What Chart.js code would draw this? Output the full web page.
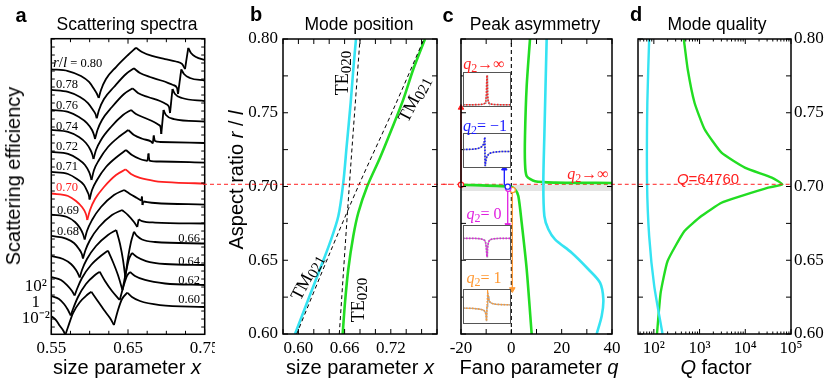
<!DOCTYPE html>
<html>
<head>
<meta charset="utf-8">
<script src="https://cdn.jsdelivr.net/npm/chart.js@4.4.1/dist/chart.umd.min.js"></script>
<style>
body { margin: 0; background: #fff; }
#fig { position: relative; width: 826px; height: 382px; overflow: hidden; font-family: "Liberation Sans", Arial, sans-serif; }
canvas { position: absolute; top: 0; }
canvas.inset { background: #fff; }
.t { position: absolute; transform: translate(-50%, -50%); white-space: nowrap; line-height: 1; }
.let { font-weight: bold; font-size: 20px; }
.ttl { font-size: 17.5px; }
.ax { font-size: 20px; }
.rot { transform: translate(-50%, -50%) rotate(-90deg); }
.sl { position: absolute; transform: translate(0, -50%); white-space: nowrap; line-height: 1; font: 12.5px "Liberation Serif", serif; }
.sr { position: absolute; transform: translate(-100%, -50%); white-space: nowrap; line-height: 1; font: 12.5px "Liberation Serif", serif; }
.q { font: 16px "Liberation Serif", serif; }
.q sub { font-size: 12px; vertical-align: -3px; line-height: 0; }
.m { font: 18px "Liberation Serif", serif; }
.m sub { font-size: 15px; vertical-align: -3px; line-height: 0; }
</style>
</head>
<body>
<div id="fig">
  <canvas id="ca" width="215" height="382" style="left:0px"></canvas>
  <canvas id="cb" width="250" height="382" style="left:200px"></canvas>
  <canvas id="cc" width="185" height="382" style="left:440px"></canvas>
  <canvas id="cd" width="201" height="382" style="left:625px"></canvas>
  <canvas id="i1" class="inset" width="48" height="35" style="left:463px;top:72px"></canvas>
  <canvas id="i2" class="inset" width="48" height="35" style="left:463px;top:133px"></canvas>
  <canvas id="i3" class="inset" width="48" height="35" style="left:463px;top:225px"></canvas>
  <canvas id="i4" class="inset" width="48" height="35" style="left:463px;top:289px"></canvas>

  <div class="t let" style="left:21px;top:15px">a</div>
  <div class="t let" style="left:256px;top:14px">b</div>
  <div class="t let" style="left:448px;top:15px">c</div>
  <div class="t let" style="left:636px;top:14px">d</div>

  <div class="t ttl" style="left:127px;top:25px">Scattering spectra</div>
  <div class="t ttl" style="left:359px;top:25px">Mode position</div>
  <div class="t ttl" style="left:535px;top:25px">Peak asymmetry</div>
  <div class="t ttl" style="left:717px;top:25px">Mode quality</div>

  <div class="t ax" style="left:127px;top:367px">size parameter <i>x</i></div>
  <div class="t ax" style="left:360px;top:367px">size parameter <i>x</i></div>
  <div class="t ax" style="left:539px;top:367px">Fano parameter <i>q</i></div>
  <div class="t ax" style="left:716px;top:367px"><i>Q</i> factor</div>
  <div class="t ax rot" style="left:13px;top:176px">Scattering efficiency</div>
  <div class="t ax rot" style="left:236px;top:180px">Aspect ratio <i>r</i> / <i>l</i></div>

  <div class="sl" style="left:53px;top:62px"><span style="font-size:15px"><i>r</i>/<i>l</i></span> = 0.80</div>
  <div class="sl" style="left:56px;top:84px">0.78</div>
  <div class="sl" style="left:56px;top:105px">0.76</div>
  <div class="sl" style="left:56px;top:126px">0.74</div>
  <div class="sl" style="left:56px;top:146px">0.72</div>
  <div class="sl" style="left:56px;top:166px">0.71</div>
  <div class="sl" style="left:56px;top:187px;color:#ff2020">0.70</div>
  <div class="sl" style="left:57px;top:210px">0.69</div>
  <div class="sl" style="left:57px;top:231px">0.68</div>
  <div class="sr" style="left:200px;top:238px">0.66</div>
  <div class="sr" style="left:200px;top:261px">0.64</div>
  <div class="sr" style="left:200px;top:280px">0.62</div>
  <div class="sr" style="left:200px;top:299px">0.60</div>

  <div class="t m" style="left:342px;top:73px;transform:translate(-50%,-50%) rotate(-90deg)">TE<sub>020</sub></div>
  <div class="t m" style="left:414px;top:99px;transform:translate(-50%,-50%) rotate(-63deg)">TM<sub>021</sub></div>
  <div class="t m" style="left:307px;top:277px;transform:translate(-50%,-50%) rotate(-62deg)">TM<sub>021</sub></div>
  <div class="t m" style="left:358px;top:300px;transform:translate(-50%,-50%) rotate(-90deg)">TE<sub>020</sub></div>

  <div class="t q" style="left:484px;top:64px;color:#ff2020"><i>q</i><sub>2</sub>→∞</div>
  <div class="t q" style="left:485px;top:126px;color:#1a1aff"><i>q</i><sub>2</sub>= −1</div>
  <div class="t q" style="left:484px;top:214px;color:#e020e0"><i>q</i><sub>2</sub>= 0</div>
  <div class="t q" style="left:484px;top:278px;color:#ff9933"><i>q</i><sub>2</sub>= 1</div>
  <div class="t q" style="left:588px;top:174px;color:#ff2020"><i>q</i><sub>2</sub>→∞</div>
  <div class="t" style="left:708px;top:178px;color:#ff2020;font-size:15px"><i>Q</i>=64760</div>
</div>

<script>
// panel a: spectra, y in decades (log10), each r/l offset upward
const specLabels = ['0.80', '0.78', '0.76', '0.74', '0.72', '0.71', '0.70', '0.69', '0.68', '0.66', '0.64', '0.62', '0.60'];
const spec080 = [[0.55,29.21],[0.5718,29.0],[0.5887,28.38],[0.5992,27.63],[0.6057,26.75],[0.6096,26.13],[0.6118,25.63],[0.6148,26.63],[0.6213,28.0],[0.6344,29.5],[0.65,31.0],[0.6604,31.91],[0.6683,31.38],[0.6813,30.88],[0.6983,30.5],[0.7126,30.19],[0.7204,29.88],[0.7243,29.25],[0.7286,31.88],[0.7321,31.25],[0.7387,30.75],[0.75,30.38]];
const spec078 = [[0.55,26.63],[0.5718,26.38],[0.5874,25.75],[0.5978,25.0],[0.6044,24.13],[0.6076,23.63],[0.6092,23.09],[0.6122,24.13],[0.6187,25.5],[0.6317,27.0],[0.6474,28.63],[0.6578,29.34],[0.6656,28.75],[0.6787,28.25],[0.6956,27.75],[0.7087,27.25],[0.7139,26.88],[0.7152,26.13],[0.7195,29.21],[0.723,28.63],[0.7308,28.13],[0.75,27.81]];
const spec076 = [[0.55,24.13],[0.5718,23.88],[0.5861,23.25],[0.5965,22.5],[0.6031,21.63],[0.6057,21.0],[0.607,20.5],[0.6102,21.63],[0.6161,22.88],[0.6291,24.5],[0.6448,26.13],[0.6561,26.84],[0.663,26.25],[0.6761,25.75],[0.6917,25.25],[0.6995,24.88],[0.7035,24.5],[0.7048,23.75],[0.708,26.75],[0.7113,26.13],[0.7204,25.63],[0.75,25.25]];
const spec074 = [[0.55,21.63],[0.5718,21.38],[0.5861,20.75],[0.5952,20.0],[0.6011,19.13],[0.6037,18.5],[0.605,18.0],[0.6083,19.13],[0.6148,20.38],[0.6278,22.0],[0.6435,23.5],[0.6539,24.13],[0.6604,23.63],[0.6722,23.13],[0.6839,22.63],[0.6904,22.25],[0.6924,22.0],[0.6934,21.13],[0.6963,24.13],[0.6995,23.5],[0.71,23.0],[0.75,22.69]];
const spec072 = [[0.55,18.88],[0.5718,18.63],[0.5848,18.0],[0.5939,17.25],[0.5992,16.38],[0.6011,15.88],[0.6024,15.38],[0.6057,16.63],[0.6122,17.88],[0.6239,19.5],[0.6396,20.88],[0.6504,21.63],[0.6578,21.0],[0.6696,20.5],[0.68,20.19],[0.6823,19.94],[0.6835,20.94],[0.6852,20.25],[0.6917,20.13],[0.75,20.0]];
const spec071 = [[0.55,16.38],[0.5718,16.13],[0.5835,15.5],[0.5926,14.75],[0.5972,13.88],[0.5992,13.38],[0.5998,12.94],[0.6031,14.13],[0.6096,15.38],[0.6213,17.0],[0.637,18.38],[0.6474,19.13],[0.6552,18.5],[0.6656,18.0],[0.6754,17.75],[0.6767,18.69],[0.678,17.81],[0.6917,17.69],[0.75,17.56]];
const spec070 = [[0.55,13.69],[0.5718,13.38],[0.5822,12.75],[0.59,12.0],[0.5946,11.25],[0.5962,10.75],[0.5969,10.38],[0.6005,11.63],[0.607,13.0],[0.6187,14.5],[0.6344,16.0],[0.647,16.71],[0.6539,16.13],[0.6656,15.63],[0.6852,15.25],[0.7113,15.06],[0.75,14.94]];
const spec069 = [[0.55,11.06],[0.5705,10.75],[0.5809,10.13],[0.5874,9.38],[0.5913,8.63],[0.5935,7.94],[0.5965,9.0],[0.6031,10.38],[0.6148,12.0],[0.6317,13.5],[0.6448,14.13],[0.6526,13.63],[0.6617,13.13],[0.6673,12.81],[0.6681,13.31],[0.6689,12.25],[0.6699,12.69],[0.6852,12.5],[0.75,12.31]];
const spec068 = [[0.55,8.38],[0.5692,8.06],[0.5796,7.5],[0.5861,6.75],[0.5898,6.13],[0.5913,5.56],[0.5946,6.63],[0.6005,7.88],[0.6122,9.5],[0.6291,11.0],[0.6422,11.63],[0.65,11.0],[0.6578,10.13],[0.6621,9.5],[0.6639,10.46],[0.6683,10.25],[0.6852,10.06],[0.75,9.94]];
const spec066 = [[0.55,5.88],[0.5653,5.5],[0.5757,4.88],[0.5822,4.13],[0.5857,3.5],[0.587,3.19],[0.59,4.13],[0.5965,5.5],[0.6083,7.13],[0.6239,8.5],[0.6347,9.13],[0.6396,7.38],[0.6435,5.38],[0.6465,3.25],[0.65,5.63],[0.6539,7.63],[0.6578,8.91],[0.6617,8.38],[0.6683,7.94],[0.6852,7.63],[0.75,7.44]];
const spec064 = [[0.55,3.25],[0.5626,2.88],[0.5705,2.25],[0.577,1.5],[0.5805,0.94],[0.5835,1.75],[0.59,3.13],[0.6018,4.75],[0.6161,6.0],[0.6239,6.54],[0.6304,5.13],[0.6369,3.5],[0.6428,1.63],[0.6474,3.88],[0.6513,5.5],[0.6552,6.25],[0.6617,5.75],[0.6735,5.25],[0.6983,4.88],[0.75,4.75]];
const spec062 = [[0.55,0.88],[0.56,0.5],[0.5666,-0.13],[0.5718,-0.88],[0.5753,-1.56],[0.5783,-0.75],[0.5848,0.75],[0.5952,2.38],[0.607,3.5],[0.6131,3.91],[0.62,2.75],[0.6291,1.5],[0.6392,0.38],[0.6435,1.88],[0.6487,3.38],[0.6526,3.88],[0.6591,3.38],[0.6722,2.88],[0.6983,2.44],[0.75,2.25]];
const spec060 = [[0.55,-1.63],[0.5561,-2.13],[0.5613,-2.88],[0.5659,-3.5],[0.5683,-4.0],[0.5718,-3.0],[0.5783,-1.25],[0.5874,0.13],[0.5965,1.0],[0.6022,1.41],[0.6096,0.38],[0.6187,-0.88],[0.6265,-1.88],[0.6317,-2.75],[0.637,-0.88],[0.6422,0.5],[0.6491,1.29],[0.6552,0.75],[0.6656,0.25],[0.6917,-0.25],[0.75,-0.5]];
const spectra = [spec080, spec078, spec076, spec074, spec072, spec071, spec070, spec069, spec068, spec066, spec064, spec062, spec060];
const aXTicks = [0.55, 0.575, 0.6, 0.625, 0.65, 0.675, 0.7, 0.725, 0.75];
const aXLabeled = [0.55, 0.65, 0.75];
const aYLabeled = [2, 0, -2];
const aYText = ['10²', '1', '10⁻²'];

// panel b: mode position (size parameter x vs r/l)
const bCyan = [[0.5956,0.60],[0.6129,0.6235],[0.628,0.6439],[0.641,0.6619],[0.6519,0.68],[0.6583,0.7026],[0.6627,0.7275],[0.6679,0.7568],[0.6713,0.7795],[0.6748,0.80]];
const bGreen = [[0.6575,0.60],[0.6605,0.6212],[0.6648,0.6439],[0.6713,0.6664],[0.6778,0.6822],[0.6895,0.7003],[0.706,0.7195],[0.7211,0.7388],[0.7363,0.7591],[0.7492,0.7795],[0.7644,0.80]];
const bTE = [[0.6531,0.60],[0.6661,0.7003],[0.68,0.80]];
const bTM = [[0.5978,0.60],[0.641,0.6551],[0.6791,0.7017],[0.7233,0.7523],[0.7631,0.80]];
const bXTicks = [0.58, 0.60, 0.62, 0.64, 0.66, 0.68, 0.70, 0.72, 0.74, 0.76, 0.78];
const bXLabeled = [0.60, 0.66, 0.72];
const rTicks = [0.60, 0.625, 0.65, 0.675, 0.70, 0.725, 0.75, 0.775, 0.80];
const rLabeled = [0.60, 0.65, 0.70, 0.75, 0.80];
const rBic = 0.7015;

// panel c: Fano parameter q
const cGreenUpper = [[7.42,0.80],[6.10,0.7681],[5.43,0.7342],[5.43,0.7162],[6.10,0.7071],[9.41,0.7035],[17.36,0.7026],[40.1,0.7024]];
const cGreenLower = [[-20,0.7012],[-0.53,0.6999],[1.46,0.6981],[2.78,0.6936],[4.11,0.6755],[6.10,0.6439],[8.08,0.60]];
const cCyan = [[14.04,0.80],[13.12,0.7342],[12.72,0.7026],[13.12,0.68],[14.71,0.671],[17.36,0.6642],[23.98,0.6551],[30.6,0.6439],[35.24,0.6348],[36.56,0.6235],[35.9,0.6122],[33.9,0.60]];
const cBand = [0.6969, 0.7012];
const arrowQ = [-20, -2.79, -1.44, 0.39];
const arrowFrom = [0.7012, 0.7008, 0.6992, 0.6976];
const arrowTo = [0.7535, 0.7123, 0.6737, 0.6303];
const arrowColors = ['#ff2020', '#1a1aff', '#e020e0', '#ff9933'];
const dotQ = [-20, -1.44, -1.2, 0.55];
const dotR = [0.7012, 0.6999, 0.6985, 0.6976];
const cXTicks = [-20, -10, 0, 10, 20, 30, 40];
const cXLabeled = [-20, 0, 20, 40];

// insets (normalised detuning vs normalised intensity)
const insInfX = [-1,-0.6,-0.3,-0.15,-0.08,-0.05,-0.03,-0.015,0,0.015,0.03,0.05,0.08,0.15,0.3,0.6,1];
const insInfY = [0.02,0.02,0.03,0.04,0.07,0.12,0.3,0.7,0.95,0.7,0.3,0.12,0.07,0.04,0.03,0.02,0.02];
const insM1X = [-1,-0.6,-0.4,-0.28,-0.2,-0.15,-0.12,-0.1,-0.09,-0.08,-0.06,-0.03,0,0.1,0.3,0.6,1];
const insM1Y = [0.53,0.54,0.56,0.59,0.63,0.69,0.77,0.88,0.92,0.02,0.11,0.24,0.32,0.41,0.45,0.47,0.47];
const ins0X = [-1,-0.5,-0.3,-0.18,-0.1,-0.06,-0.03,-0.01,0,0.01,0.03,0.06,0.1,0.18,0.3,0.5,1];
const ins0Y = [0.63,0.63,0.62,0.6,0.57,0.5,0.35,0.12,0.05,0.12,0.35,0.5,0.57,0.6,0.62,0.63,0.63];
const insP1X = [-1,-0.6,-0.35,-0.2,-0.12,-0.07,-0.04,-0.02,0,0.03,0.05,0.08,0.12,0.2,0.35,0.6,1];
const insP1Y = [0.45,0.44,0.42,0.4,0.37,0.32,0.24,0.04,0.5,0.92,0.82,0.7,0.64,0.6,0.57,0.56,0.55];

// panel d: quality factor
const dGreen = [[452,0.80],[550,0.7795],[776,0.7568],[1288,0.7388],[3020,0.7229],[9772,0.7128],[38019,0.706],[64760,0.7015],[31623,0.6992],[8318,0.6936],[3020,0.689],[1096,0.68],[468,0.6698],[200,0.6495],[141,0.628],[117,0.60]];
const dCyan = [[79,0.80],[72,0.7568],[71,0.7026],[79,0.6664],[102,0.6325],[155,0.60]];
const dXTicks = [50,60,70,80,90,100,200,300,400,500,600,700,800,900,1000,2000,3000,4000,5000,6000,7000,8000,9000,10000,20000,30000,40000,50000,60000,70000,80000,90000,100000];
const dXLabeled = [100, 1000, 10000, 100000];
const dXText = ['10²', '10³', '10⁴', '10⁵'];

const CYAN = '#35e3f2';
const GREEN = '#22dd22';
const RED = '#ff2020';
const serif = "'Liberation Serif', 'Times New Roman', Times, serif";

Chart.defaults.font.family = serif;
Chart.defaults.font.size = 17;
Chart.defaults.color = '#000';

const frame = {
  id: 'frame',
  afterDatasetsDraw(chart, args, o) {
    const ctx = chart.ctx, a = chart.chartArea;
    ctx.save();
    ctx.strokeStyle = o.color || '#000';
    if (o.ticks) {
      const xs = chart.scales.x, ys = chart.scales.y;
      ctx.lineWidth = 1;
      ctx.beginPath();
      xs.ticks.forEach(t => {
        const p = xs.getPixelForValue(t.value), n = t.label ? o.major : o.minor;
        ctx.moveTo(p, a.bottom); ctx.lineTo(p, a.bottom - n);
        ctx.moveTo(p, a.top); ctx.lineTo(p, a.top + n);
      });
      ys.ticks.forEach(t => {
        const p = ys.getPixelForValue(t.value), n = o.yLen;
        ctx.moveTo(a.left, p); ctx.lineTo(a.left + n, p);
        ctx.moveTo(a.right, p); ctx.lineTo(a.right - n, p);
      });
      ctx.stroke();
    }
    ctx.lineWidth = o.width || 1.5;
    ctx.strokeRect(a.left, a.top, a.right - a.left, a.bottom - a.top);
    ctx.restore();
  }
};

function pts(arr) { return arr.map(p => ({x: p[0], y: p[1]})); }
function xy(xs, ys) { return xs.map((v, i) => ({x: v, y: ys[i]})); }
function curve(data, color, width, extra) {
  return Object.assign({data: data, borderColor: color, backgroundColor: color, borderWidth: width,
    pointRadius: 0, tension: 0, fill: false}, extra || {});
}
function near(list, v) { return list.findIndex(u => Math.abs(u - v) < 1e-6 * Math.max(1, Math.abs(u))); }

// split a spectrum where it turns, so cusps stay sharp while each branch is drawn smooth
function branches(arr) {
  const out = [];
  let cur = [arr[0]];
  for (let i = 1; i < arr.length; i++) {
    cur.push(arr[i]);
    if (i < arr.length - 1 && (arr[i][1] - arr[i - 1][1]) * (arr[i + 1][1] - arr[i][1]) < 0) {
      out.push(cur);
      cur = [arr[i]];
    }
  }
  out.push(cur);
  return out;
}

function scale(c) {
  return {
    type: c.type || 'linear', position: c.position, min: c.min, max: c.max,
    grid: {display: false, drawTicks: false}, border: {display: false},
    ticks: {
      autoSkip: false, maxRotation: 0, minRotation: 0, padding: c.pad, color: '#000',
      crossAlign: c.cross || 'near', font: {family: serif, size: 17},
      callback: v => { const k = near(c.labeled, v); return k < 0 ? '' : (c.text ? c.text[k] : v.toFixed(c.dec)); }
    },
    afterBuildTicks: s => { s.ticks = c.ticks.map(v => ({value: v})); },
    afterFit: s => {
      if (c.w != null) s.width = c.w;
      if (c.h != null) s.height = c.h;
      s.paddingLeft = 0; s.paddingRight = 0; s.paddingTop = 0; s.paddingBottom = 0;
    }
  };
}

function options(pad, xs, ys, fr) {
  return {
    responsive: false, animation: false, devicePixelRatio: 1, events: [],
    layout: {padding: pad},
    plugins: {legend: {display: false}, tooltip: {enabled: false}, frame: fr},
    scales: {x: xs, y: ys}
  };
}

function draw() {
  // panel a
  const aYTicks = [];
  for (let d = -3; d <= 33; d++) aYTicks.push(d);
  const aSets = [];
  spectra.forEach((s, i) => {
    branches(s).forEach(b => aSets.push(curve(pts(b), specLabels[i] === '0.70' ? RED : '#000', 1.8,
      {cubicInterpolationMode: 'monotone'})));
  });
  new Chart(document.getElementById('ca'), {
    type: 'line',
    data: {datasets: aSets},
    options: options({top: 38.7, right: 10.3, left: 0, bottom: 0},
      scale({min: 0.55, max: 0.75, ticks: aXTicks, labeled: aXLabeled, dec: 2, pad: 4, h: 47.7}),
      scale({min: -3.91, max: 33.04, ticks: aYTicks, labeled: aYLabeled, text: aYText, pad: 1.5, w: 51.3, cross: 'center'}),
      {ticks: true, major: 5, minor: 3.5, yLen: 3.5, width: 1.5}),
    plugins: [frame]
  });

  // panel b
  new Chart(document.getElementById('cb'), {
    type: 'line',
    data: {datasets: [
      curve(pts([[0.4761, rBic], [0.83, rBic]]), RED, 1, {borderDash: [4, 3], clip: false}),
      curve(pts(bTE), '#000', 1, {borderDash: [4, 3], tension: 0.3}),
      curve(pts(bTM), '#000', 1, {borderDash: [4, 3], tension: 0.3}),
      curve(pts(bCyan), CYAN, 2.6, {tension: 0.3}),
      curve(pts(bGreen), GREEN, 2.6, {tension: 0.3})
    ]},
    options: options({top: 39, right: 13, left: 0, bottom: 0},
      scale({min: 0.58, max: 0.78, ticks: bXTicks, labeled: bXLabeled, dec: 2, pad: 4, h: 48}),
      scale({min: 0.60, max: 0.80, ticks: rTicks, labeled: rLabeled, dec: 2, pad: 5, w: 83}),
      {ticks: true, major: 5, minor: 5, yLen: 5, width: 1.5}),
    plugins: [frame]
  });

  // panel c
  const cSets = [
    curve(pts([[-20, cBand[1]], [40, cBand[1]]]), 'rgba(0,0,0,0)', 0, {fill: '+1', backgroundColor: '#e4e4e4', order: 20}),
    curve(pts([[-20, cBand[0]], [40, cBand[0]]]), 'rgba(0,0,0,0)', 0, {order: 20}),
    curve(pts([[0, 0.60], [0, 0.80]]), '#000', 1.1, {borderDash: [4, 3], order: 10}),
    curve(pts([[-30, rBic], [55, rBic]]), RED, 1, {borderDash: [4, 3], clip: false, order: 5}),
    curve(pts(cCyan), CYAN, 2.6, {tension: 0.3}),
    curve(pts(cGreenUpper), GREEN, 2.6, {tension: 0.25}),
    curve(pts(cGreenLower), GREEN, 2.6, {tension: 0.25})
  ];
  arrowQ.forEach((q, i) => {
    cSets.push(curve(pts([[q, arrowFrom[i]], [q, arrowTo[i]]]), arrowColors[i], 1.3, {clip: false, order: -1}));
    cSets.push(curve(pts([[q, arrowTo[i]]]), arrowColors[i], 1, {clip: false, order: -1, showLine: false,
      pointRadius: 3.2, pointStyle: 'triangle', pointRotation: arrowTo[i] > arrowFrom[i] ? 0 : 180}));
    cSets.push(curve(pts([[dotQ[i], dotR[i]]]), arrowColors[i], 1.2, {clip: false, order: -2, showLine: false,
      pointRadius: 2.6, pointStyle: 'circle', backgroundColor: '#fff'}));
  });
  new Chart(document.getElementById('cc'), {
    type: 'line',
    data: {datasets: cSets},
    options: options({top: 39, right: 13, left: 0, bottom: 0},
      scale({min: -20, max: 40, ticks: cXTicks, labeled: cXLabeled, dec: 0, pad: 4, h: 48}),
      scale({min: 0.60, max: 0.80, ticks: rTicks, labeled: [], dec: 2, pad: 5, w: 21}),
      {ticks: true, major: 5, minor: 5, yLen: 5, width: 1.5}),
    plugins: [frame]
  });

  // panel d
  new Chart(document.getElementById('cd'), {
    type: 'line',
    data: {datasets: [
      curve(pts([[23, rBic], [100000, rBic]]), RED, 1, {borderDash: [4, 3], clip: false}),
      curve(pts(dCyan), CYAN, 2.4, {tension: 0.2}),
      curve(pts(dGreen), GREEN, 2.4, {tension: 0.15})
    ]},
    options: options({top: 39, right: 0, left: 13, bottom: 0},
      scale({type: 'logarithmic', min: 45, max: 100000, ticks: dXTicks, labeled: dXLabeled, text: dXText, pad: 4, h: 48}),
      scale({position: 'right', min: 0.60, max: 0.80, ticks: rTicks, labeled: rLabeled, dec: 2, pad: 3, w: 35}),
      {ticks: true, major: 5, minor: 2.5, yLen: 5, width: 1.5}),
    plugins: [frame]
  });

  // insets
  function inset(id, xs, ys, color) {
    new Chart(document.getElementById(id), {
      type: 'line',
      data: {datasets: [
        curve(xy(xs, ys), color, 1.6, {borderDash: [1.5, 1.5]}),
        curve(xy(xs, ys), '#a8a8a8', 1.4)
      ]},
      options: {
        responsive: false, animation: false, devicePixelRatio: 1, events: [],
        layout: {padding: 0},
        plugins: {legend: {display: false}, tooltip: {enabled: false}, frame: {ticks: false, width: 2, color: '#555'}},
        scales: {x: {type: 'linear', display: false, min: -1, max: 1}, y: {display: false, min: -0.05, max: 1.05}}
      },
      plugins: [frame]
    });
  }
  inset('i1', insInfX, insInfY, RED);
  inset('i2', insM1X, insM1Y, '#1a1aff');
  inset('i3', ins0X, ins0Y, '#e020e0');
  inset('i4', insP1X, insP1Y, '#ff9933');
}

if (document.fonts && document.fonts.load) {
  document.fonts.load("17px 'Liberation Serif'").then(draw, draw);
} else {
  draw();
}
</script>
</body>
</html>
